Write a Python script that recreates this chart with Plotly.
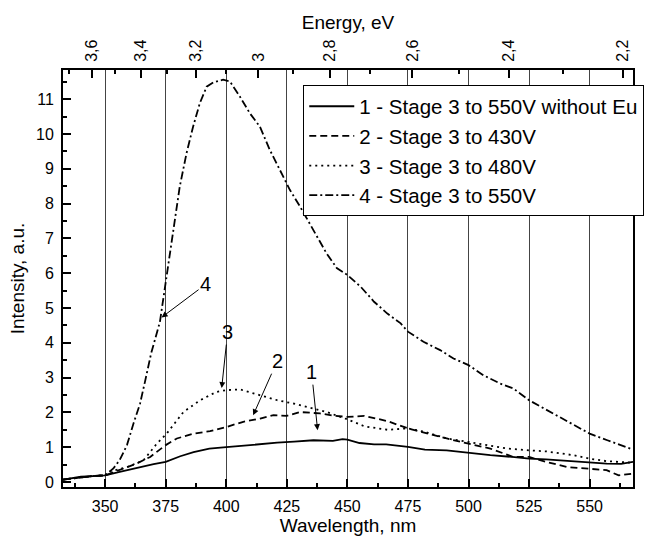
import plotly.graph_objects as go

# ---- data ----
wl_1 = [332.6, 335, 340, 345, 350, 356, 363, 370, 375, 381, 386.5, 393, 400, 407, 414, 421, 428,
        436, 444, 448, 450, 455, 461, 466, 475, 482, 491, 500, 509, 518, 525, 532, 541, 550, 557, 563, 567.9]
int_1 = [0.07, 0.10, 0.15, 0.17, 0.19, 0.29, 0.41, 0.51, 0.58, 0.74, 0.86, 0.96, 1.00, 1.05, 1.10, 1.13, 1.16,
         1.20, 1.18, 1.23, 1.22, 1.12, 1.08, 1.08, 1.01, 0.93, 0.91, 0.83, 0.77, 0.72, 0.67, 0.65, 0.60, 0.55, 0.53, 0.52, 0.58]

wl_2 = [332.6, 340, 345, 350, 356, 363, 368.6, 375, 379.6, 386.5, 393.3, 400, 407, 414, 419.5, 425, 430.5,
        438.7, 445, 450, 457, 466.5, 475, 482.8, 491, 500, 509, 518.5, 525, 532, 540.7, 550, 557, 562, 567.9]
int_2 = [0.07, 0.14, 0.17, 0.19, 0.34, 0.53, 0.72, 1.06, 1.25, 1.39, 1.46, 1.58, 1.73, 1.82, 1.92, 1.90, 2.01,
         1.97, 1.90, 1.87, 1.90, 1.75, 1.54, 1.39, 1.25, 1.10, 0.96, 0.72, 0.72, 0.58, 0.43, 0.38, 0.34, 0.19, 0.24]

wl_3 = [332.6, 340, 345, 350, 352, 359, 365.8, 371.3, 375.4, 382.3, 389.2, 396, 400, 405.7, 414, 421, 428,
        436, 441.5, 450, 457, 466.5, 475, 482, 491, 500, 507.5, 516, 525, 532, 543.4, 550, 557, 567.9]
int_3 = [0.07, 0.14, 0.17, 0.20, 0.30, 0.43, 0.62, 1.10, 1.39, 2.01, 2.35, 2.59, 2.64, 2.66, 2.49, 2.35, 2.25,
         2.11, 2.01, 1.80, 1.60, 1.50, 1.54, 1.44, 1.25, 1.15, 1.06, 0.96, 0.91, 0.88, 0.77, 0.67, 0.60, 0.55]

wl_4 = [332.6, 340, 345, 350, 353.4, 356, 359, 361.7, 364.4, 366.5, 369, 372.6, 375.3, 378.1, 380.8, 383.6,
        386.3, 389.1, 391.9, 394.6, 398.7, 401.5, 405.6, 409.7, 413.9, 418, 422.2, 426.3, 430.5, 435.9,
        441.4, 445.6, 450, 455.5, 461, 466.5, 472, 475, 481.4, 488.3, 493.8, 500, 506.1, 513, 518.5,
        525, 532.4, 540.7, 550, 557.3, 567.9]
int_4 = [0.07, 0.14, 0.17, 0.19, 0.39, 0.63, 1.06, 1.68, 2.25, 2.90, 3.70, 4.60, 5.90, 7.34, 8.49, 9.45,
         10.21, 10.89, 11.36, 11.48, 11.56, 11.51, 11.08, 10.60, 10.21, 9.54, 8.97, 8.39, 7.91, 7.24,
         6.57, 6.15, 5.95, 5.61, 5.18, 4.84, 4.56, 4.32, 4.03, 3.79, 3.55, 3.36, 3.07, 2.83, 2.69,
         2.35, 2.06, 1.73, 1.39, 1.20, 0.93]

series_names = ["1 - Stage 3 to 550V without Eu", "2 - Stage 3 to 430V",
                "3 - Stage 3 to 480V", "4 - Stage 3 to 550V"]

energy_major = [3.6, 3.4, 3.2, 3.0, 2.8, 2.6, 2.4, 2.2]
energy_labels = ["3,6", "3,4", "3,2", "3", "2,8", "2,6", "2,4", "2,2"]
energy_minor = [3.7, 3.5, 3.3, 3.1, 2.9, 2.7, 2.5, 2.3]

# annotation labels: (label, head wavelength, head intensity, ax px, ay px)
ann_labels = ["4", "3", "2", "1"]
ann_x = [373.3, 398.1, 411.1, 437.7]
ann_y = [4.73, 2.70, 1.92, 1.49]
ann_ax = [44, 6, 24, -6]
ann_ay = [-33, -56, -54, -58]

HC = 1239.84
X_RANGE = [332.6, 567.9]
Y_RANGE = [-0.144, 11.84]
FONT = "Liberation Sans, Arial, sans-serif"

fig = go.Figure()
dashes = ["solid", "7px,4px", "2px,4px", "8px,3px,2px,3px"]
for wl, val, name, dash in zip([wl_1, wl_2, wl_3, wl_4], [int_1, int_2, int_3, int_4], series_names, dashes):
    fig.add_trace(go.Scatter(x=wl, y=val, mode="lines", name=name,
                             line=dict(color="black", width=1.8, dash=dash)))

# invisible trace to activate the top energy axis
fig.add_trace(go.Scatter(x=wl_1, y=int_1, xaxis="x2", mode="lines", opacity=0,
                         showlegend=False, hoverinfo="skip", line=dict(color="black")))

for lab, hx, hy, ax, ay in zip(ann_labels, ann_x, ann_y, ann_ax, ann_ay):
    fig.add_annotation(x=hx, y=hy, ax=ax, ay=ay, text=lab, showarrow=True,
                       arrowhead=2, arrowsize=1.2, arrowwidth=1, arrowcolor="black",
                       font=dict(size=20, color="black", family=FONT))

fig.update_layout(
    width=652, height=536,
    margin=dict(l=63, r=19, t=70, b=49, autoexpand=False),
    paper_bgcolor="white", plot_bgcolor="white",
    font=dict(family=FONT, color="black", size=16),
    showlegend=True,
    legend=dict(x=0.4215, y=0.963, xanchor="left", yanchor="top",
                bgcolor="white", bordercolor="black", borderwidth=1,
                font=dict(size=20.5, family=FONT), itemwidth=45,
                tracegroupgap=0),
    xaxis=dict(range=X_RANGE, tick0=350, dtick=25, ticks="inside", ticklen=8, tickwidth=1.5,
               tickcolor="black", showline=True, linecolor="black", linewidth=2, mirror=False,
               showgrid=True, gridcolor="#444", gridwidth=1, zeroline=False,
               ticklabelstandoff=4,
               minor=dict(dtick=12.5, tick0=337.5, ticks="inside", ticklen=4, tickcolor="black", showgrid=False),
               title=dict(text="Wavelength, nm", font=dict(size=19), standoff=14),
               tickfont=dict(size=16)),
    xaxis2=dict(range=X_RANGE, overlaying="x", side="top", anchor="y",
                tickmode="array", tickvals=[HC / e for e in energy_major], ticktext=energy_labels,
                tickangle=-90, ticks="inside", ticklen=8, tickwidth=1.5, tickcolor="black",
                showline=True, linecolor="black", linewidth=2, showgrid=False, zeroline=False,
                ticklabelstandoff=3,
                minor=dict(tickmode="array", tickvals=[HC / e for e in energy_minor],
                           ticks="inside", ticklen=4, tickcolor="black", showgrid=False),
                title=dict(text="Energy, eV", font=dict(size=19), standoff=5),
                tickfont=dict(size=16)),
    yaxis=dict(range=Y_RANGE, dtick=1, tick0=0, ticks="inside", ticklen=8, tickwidth=1.5,
               tickcolor="black", showline=True, linecolor="black", linewidth=2, mirror=True,
               showgrid=False, zeroline=False, ticklabelstandoff=4,
               minor=dict(dtick=0.5, tick0=0, ticks="inside", ticklen=4, tickcolor="black", showgrid=False),
               title=dict(text="Intensity, a.u.", font=dict(size=19), standoff=6),
               tickfont=dict(size=16)),
)

fig.write_html("out.html")
